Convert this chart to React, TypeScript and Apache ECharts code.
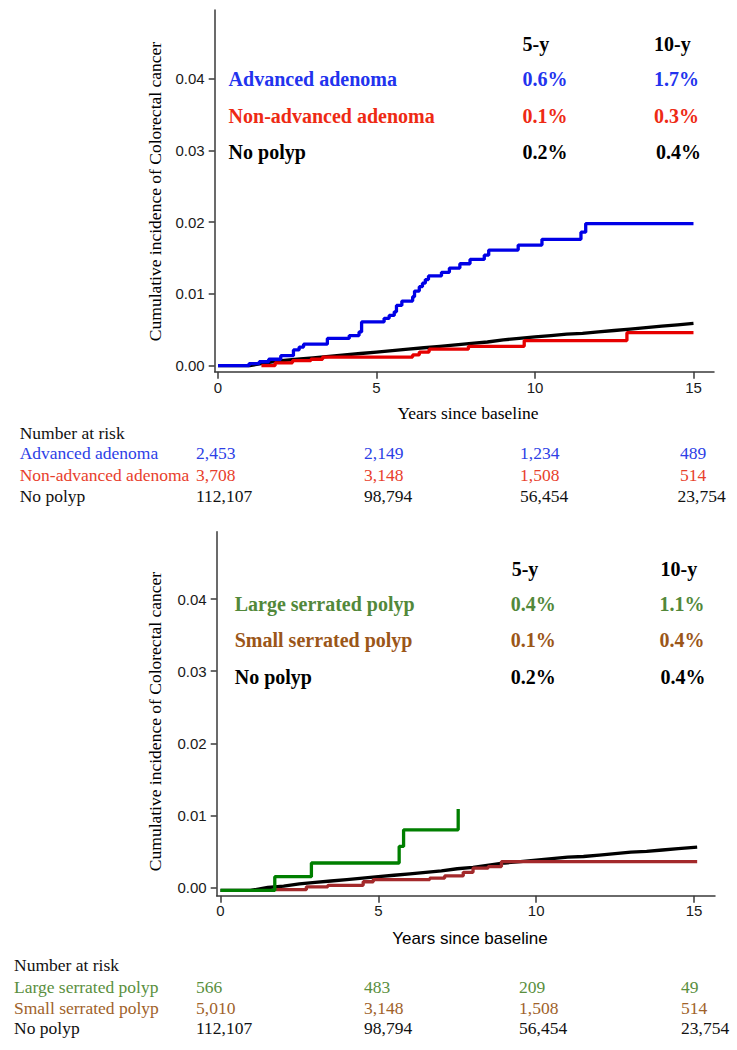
import React, { useEffect, useRef } from "react";
import * as echarts from "echarts";

const SANS = "'Liberation Sans', Arial, sans-serif";
const SERIF = "'Liberation Serif', 'Times New Roman', serif";

// ---- axis ticks ----
const xTicks = [0, 5, 10, 15];
const yTicks = [0, 0.01, 0.02, 0.03, 0.04];
const riskYears = [0, 5, 10, 15];

// ---- top panel curves: [years, cumulative incidence] ----
const advancedAdenoma: [number, number][] = [
  [0, 0], [0.98, 0.0003], [1.3, 0.00055], [1.6, 0.0009], [1.98, 0.0014], [2.38, 0.0022],
  [2.56, 0.0026], [2.7, 0.003], [3.45, 0.0038], [4.14, 0.0042], [4.45, 0.0047], [4.53, 0.0061],
  [5.24, 0.0066], [5.4, 0.007], [5.56, 0.0075], [5.63, 0.0084], [5.8, 0.009], [6.14, 0.0096],
  [6.2, 0.0104], [6.35, 0.011], [6.45, 0.0115], [6.54, 0.012], [6.64, 0.0125], [7.05, 0.013],
  [7.3, 0.0136], [7.63, 0.0142], [7.95, 0.0148], [8.4, 0.0154], [8.54, 0.0161], [9.47, 0.0168],
  [10.22, 0.0176], [11.45, 0.0186], [11.6, 0.0198], [15, 0.0198],
];
const nonAdvancedAdenoma: [number, number][] = [
  [1.37, 0], [1.8, 0.0004], [2.35, 0.0007], [2.93, 0.0009], [3.3, 0.0012], [6.14, 0.0015],
  [6.35, 0.0019], [6.66, 0.0023], [7.9, 0.0027], [9.66, 0.0035], [12.9, 0.0046], [15, 0.0046],
];
const noPolypTop: [number, number][] = [
  [0, 0], [1.0, 0], [1.5, 0.0004], [2, 0.0007], [2.5, 0.0009], [3, 0.0011], [3.5, 0.0013],
  [4, 0.0015], [4.5, 0.0017], [5, 0.0019], [5.5, 0.0021], [6, 0.0023], [6.5, 0.0025],
  [7, 0.0027], [7.5, 0.0029], [8, 0.0031], [8.5, 0.0033], [9, 0.0036], [9.5, 0.0038],
  [10, 0.004], [10.5, 0.0042], [11, 0.0044], [11.5, 0.0045], [12, 0.0047], [12.5, 0.0049],
  [13, 0.0051], [13.5, 0.0053], [14, 0.0055], [14.5, 0.0057], [15, 0.0059],
];

// ---- bottom panel curves ----
const largeSerrated: [number, number][] = [
  [0, -0.0004], [1.72, 0.0015], [2.88, 0.0034], [5.66, 0.0057], [5.8, 0.008], [7.53, 0.0109],
];
const smallSerrated: [number, number][] = [
  [1.72, -0.0003], [2.72, 0.0001], [3.4, 0.0003], [4.52, 0.0008], [4.84, 0.0011], [6.63, 0.0013],
  [7.1, 0.0016], [7.69, 0.0021], [8.0, 0.0027], [8.48, 0.0029], [8.9, 0.0036], [15.1, 0.0036],
];
const noPolypBottom: [number, number][] = [
  [0, -0.0004], [0.95, -0.0004], [1.5, 0.0], [2, 0.0002], [2.5, 0.0005], [3, 0.0007],
  [3.5, 0.0009], [4, 0.0011], [4.5, 0.0013], [5, 0.0015], [5.5, 0.0017], [6, 0.0019],
  [6.5, 0.0021], [7, 0.0023], [7.5, 0.0026], [8, 0.0028], [8.5, 0.0031], [9, 0.0034],
  [9.5, 0.0036], [10, 0.0038], [10.5, 0.004], [11, 0.0042], [11.5, 0.0043], [12, 0.0045],
  [12.5, 0.0047], [13, 0.0049], [13.5, 0.005], [14, 0.0052], [14.5, 0.0054], [15.1, 0.0056],
];

// ---- legend tables ----
const topGroups = ["Advanced adenoma", "Non-advanced adenoma", "No polyp"];
const topFiveYear = [0.6, 0.1, 0.2];
const topTenYear = [1.7, 0.3, 0.4];
const bottomGroups = ["Large serrated polyp", "Small serrated polyp", "No polyp"];
const bottomFiveYear = [0.4, 0.1, 0.2];
const bottomTenYear = [1.1, 0.4, 0.4];
const columnHeads = ["5-y", "10-y"];

// ---- number at risk ----
const topRisk = [
  [2453, 2149, 1234, 489],
  [3708, 3148, 1508, 514],
  [112107, 98794, 56454, 23754],
];
const bottomRisk = [
  [566, 483, 209, 49],
  [5010, 3148, 1508, 514],
  [112107, 98794, 56454, 23754],
];

const topCurveColors = ["#0000E6", "#E60000", "#000000"];
const topTextColors = ["#2233EE", "#EE2A14", "#000000"];
const topRiskColors = ["#2D3FE6", "#E8402C", "#111111"];
const bottomCurveColors = ["#007F00", "#A3292B", "#000000"];
const bottomTextColors = ["#52883A", "#9B5618", "#000000"];
const bottomRiskColors = ["#5A8F3E", "#A0622A", "#111111"];

const AXIS_COLOR = "#3a3a3a";

function mkX(gridIndex: number, min: number, max: number, margin: number) {
  return {
    type: "value",
    gridIndex,
    min,
    max,
    splitLine: { show: false },
    axisLine: { show: true, onZero: false, lineStyle: { color: AXIS_COLOR, width: 1.5 } },
    axisTick: { show: true, customValues: xTicks, length: 7, lineStyle: { color: AXIS_COLOR, width: 1.5 } },
    axisLabel: {
      customValues: xTicks,
      margin,
      fontSize: 15,
      fontFamily: SANS,
      color: "#1a1a1a",
      formatter: (v: number) => String(v),
    },
  };
}

function mkY(gridIndex: number, min: number, max: number) {
  return {
    type: "value",
    gridIndex,
    min,
    max,
    splitLine: { show: false },
    axisLine: { show: true, onZero: false, lineStyle: { color: AXIS_COLOR, width: 1.5 } },
    axisTick: { show: true, customValues: yTicks, length: 6, lineStyle: { color: AXIS_COLOR, width: 1.5 } },
    axisLabel: {
      customValues: yTicks,
      margin: 10,
      fontSize: 15,
      fontFamily: SANS,
      color: "#1a1a1a",
      formatter: (v: number) => v.toFixed(2),
    },
  };
}

function curve(data: [number, number][], color: string, idx: number, z: number, step: boolean) {
  return {
    type: "line",
    xAxisIndex: idx,
    yAxisIndex: idx,
    data,
    step: step ? "end" : false,
    symbol: "none",
    showSymbol: false,
    z,
    lineStyle: { color, width: 3.3 },
    itemStyle: { color },
  };
}

function txt(
  text: string,
  x: number,
  y: number,
  opts: { color?: string; size?: number; family?: string; weight?: string; align?: string; rotation?: number }
) {
  const align = opts.align || "left";
  return {
    type: "text",
    x,
    y,
    rotation: opts.rotation || 0,
    silent: true,
    style: {
      text,
      fill: opts.color || "#000",
      fontSize: opts.size || 17.5,
      fontFamily: opts.family || SERIF,
      fontWeight: opts.weight || "normal",
      align,
      textAlign: align,
      verticalAlign: "middle",
      textVerticalAlign: "middle",
    },
  };
}

const fmtPct = (v: number) => `${v.toFixed(1)}%`;
const fmtN = (v: number) => v.toLocaleString("en-US");

function buildGraphics() {
  const g: any[] = [];
  // ---------- top panel ----------
  g.push(txt("Cumulative incidence of Colorectal cancer", 155, 191.5, { rotation: Math.PI / 2, align: "center" }));
  g.push(txt("Years since baseline", 468, 412.7, { align: "center" }));
  const topHeadX = [522.5, 654];
  const topRowY = [79.3, 115.7, 152.3];
  columnHeads.forEach((h, i) => g.push(txt(h, topHeadX[i], 44.3, { size: 20, weight: "bold" })));
  topGroups.forEach((name, r) => {
    const c = topTextColors[r];
    g.push(txt(name, 228.6, topRowY[r], { size: 20, weight: "bold", color: c }));
    g.push(txt(fmtPct(topFiveYear[r]), 522.5, topRowY[r], { size: 20, weight: "bold", color: c }));
    g.push(txt(fmtPct(topTenYear[r]), r === 2 ? 656 : 654, topRowY[r], { size: 20, weight: "bold", color: c }));
  });
  const riskColX = [196, 364, 520, 680];
  g.push(txt("Number at risk", 19.7, 432.7, { color: "#111" }));
  const topRiskY = [453.3, 475, 496];
  topGroups.forEach((name, r) => {
    g.push(txt(name, 19.7, topRiskY[r], { color: topRiskColors[r] }));
    riskYears.forEach((_, c) => {
      const x = c === 3 && topRisk[r][c] > 9999 ? 677.5 : riskColX[c];
      g.push(txt(fmtN(topRisk[r][c]), x, topRiskY[r], { color: topRiskColors[r] }));
    });
  });

  // ---------- bottom panel ----------
  g.push(txt("Cumulative incidence of Colorectal cancer", 155, 721.5, { rotation: Math.PI / 2, align: "center" }));
  g.push(txt("Years since baseline", 470, 938.3, { align: "center", family: SANS, size: 17 }));
  const botHeadX = [511.7, 660.6];
  const botRowY = [604, 640, 676.7];
  columnHeads.forEach((h, i) => g.push(txt(h, botHeadX[i], 569.3, { size: 20, weight: "bold" })));
  bottomGroups.forEach((name, r) => {
    const c = bottomTextColors[r];
    g.push(txt(name, 234.7, botRowY[r], { size: 20, weight: "bold", color: c }));
    g.push(txt(fmtPct(bottomFiveYear[r]), 510.8, botRowY[r], { size: 20, weight: "bold", color: c }));
    g.push(txt(fmtPct(bottomTenYear[r]), r === 2 ? 660.6 : 659.6, botRowY[r], { size: 20, weight: "bold", color: c }));
  });
  const botColX = [196, 364, 519, 681];
  g.push(txt("Number at risk", 14, 965, { color: "#111" }));
  const botRiskY = [986.7, 1007.7, 1028.3];
  bottomGroups.forEach((name, r) => {
    g.push(txt(name, 14, botRiskY[r], { color: bottomRiskColors[r] }));
    riskYears.forEach((_, c) => {
      g.push(txt(fmtN(bottomRisk[r][c]), botColX[c], botRiskY[r], { color: bottomRiskColors[r] }));
    });
  });
  return g;
}

function buildOption() {
  return {
    animation: false,
    backgroundColor: "#ffffff",
    grid: [
      { left: 214.7, top: 10, width: 499.3, height: 361.7 },
      { left: 216.7, top: 531.7, width: 498.3, height: 364 },
    ],
    xAxis: [mkX(0, -0.104, 15.647, 8), mkX(1, -0.12, 15.665, 7)],
    yAxis: [mkY(0, -0.000836, 0.04954), mkY(1, -0.001137, 0.04935)],
    series: [
      curve(noPolypTop, topCurveColors[2], 0, 2, false),
      curve(nonAdvancedAdenoma, topCurveColors[1], 0, 3, true),
      curve(advancedAdenoma, topCurveColors[0], 0, 4, true),
      curve(noPolypBottom, bottomCurveColors[2], 1, 2, false),
      curve(smallSerrated, bottomCurveColors[1], 1, 3, true),
      curve(largeSerrated, bottomCurveColors[0], 1, 4, true),
    ],
    graphic: buildGraphics(),
  };
}

export default function App() {
  const ref = useRef<HTMLDivElement>(null);
  useEffect(() => {
    if (!ref.current) return;
    const chart = echarts.init(ref.current, null, { renderer: "svg" });
    chart.setOption(buildOption() as any);
    return () => chart.dispose();
  }, []);
  return (
    <div
      ref={ref}
      style={{ position: "absolute", left: 0, top: 0, width: 737, height: 1050, background: "#fff" }}
    />
  );
}
